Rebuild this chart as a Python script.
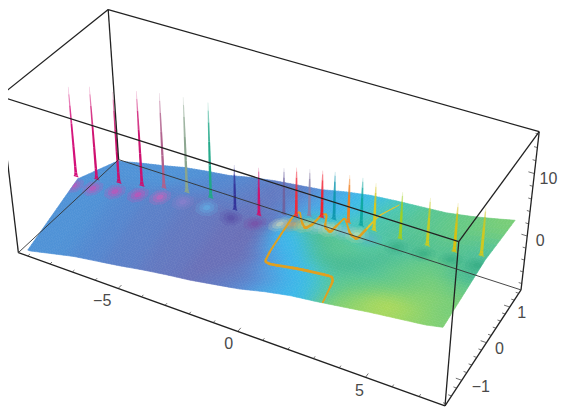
import re
import numpy as np, altair as alt

# ---- data ----
x_nodes = list(range(-9, 9))
z_front = [-8.6,-7.7,-6.8,-6.2,-5.6,-4.9,-4.3,-3.8,-3.1,-2.4,-1.4,-0.6,-0.1,0.5,1.1,1.6,2.1,3.0]
z_crest = [-4.6,-3.9,-3.2,-2.4,-1.5,-1.1,-0.8,-1.4,-0.9,0.5,1.7,2.3,2.7,2.6,2.8,3.1,3.7,4.0]
z_back  = [-7.8,-6.9,-6.1,-5.2,-4.6,-4.1,-3.2,-2.5,-2.0,-1.5,-0.6,0.1,0.5,0.8,1.1,1.8,2.7,3.7]
spike_x = [-9.16,-8.20,-7.18,-6.14,-5.16,-4.16,-3.14,-2.12,-1.12,-0.10,0.40,0.92,1.42,1.90,2.46,2.96,3.46,4.46,5.48,6.48,7.46]
spike_base = [-4.3,-3.6,-2.9,-2.1,-1.2,-0.7,-0.3,-1.0,-0.6,0.9,1.2,2.0,2.4,2.7,2.9,3.1,3.0,3.0,3.3,3.7,4.4]
spike_top = [10.7,11.8,12.1,13.4,14.2,14.7,15.0,6.4,7.2,8.4,9.1,9.5,9.9,10.3,10.5,10.7,10.5,10.4,10.8,11.3,11.9]
spike_color = ["#d4107a","#cf0f70","#cc0f6c","#cc1070","#b0608c","#8aa58e","#20a888","#34349a","#d0106c","#6e63a0",
               "#f02c3c","#8a80a8","#f02030","#1098b0","#f08020","#10a8a0","#d8c820","#a0d020","#c8cc20","#d8c010","#d0c820"]
halo_color = ["#f838ac","#f838ac","#f838ac","#f838ac","#f858b8","#a080d0","#60c4f4","#5040a0","#8040a0","#f8f0b0",
              "#f09040","#f8d878","#b8d0e8","#f0e0b0","#a0c0e0","#e8e8b0","#60b0d0","#30a880","#30a880","#30a880","#30a880"]
curve_x = [3.24,3.14,3.00,1.76,0.56,0.30,0.24,0.24,0.22,0.24,0.74,1.02,1.20,1.20,1.36,1.70,2.00,2.10,2.08,2.72,3.06,3.14,3.06,3.30]
curve_y = [-1.58,-1.15,-1.06,-1.05,-1.03,-0.98,-0.76,-0.32,0.04,0.27,-0.10,-0.23,-0.12,0.21,0.24,-0.14,-0.22,-0.03,0.24,-0.17,-0.24,0.09,0.55,1.13]
curve_w = [1.6,2.4,2.6,3.0,2.6,2.2,1.9,1.9,1.7,1.5,2.1,2.6,2.3,1.8,1.8,2.3,2.6,1.8,1.6,2.5,2.8,1.8,1.2,0.9]
x_labels = [("\u22125",-5,-16,13),("0",0,-9,13),("5",5,-6,14)]
y_labels = [("\u22121",-1,19,7),("0",0,13,6),("1",1,12,6)]
z_labels = [("10",10,14,5),("0",0,13,5)]
palette = dict(A="#4f92d6",B="#5488d0",C="#5c80c8",D="#6478c0",E="#6a70b8",F="#6868b4",G="#5890d8",H="#48a8e4",
               I="#3cb8ec",J="#40c0dc",K="#44c4c0",L="#50c2a2",M="#48ba92",N="#5ac692",O="#68ca84",P="#78ce78",
               Q="#88d270",R="#98d666",S="#a6d860",T="#b2da56",U="#4cc8b0")
cells_back = [
 "A14 B5 C3 D2 C2 G2 H3 I2 J3 U3 N4 O4 P3",
 "A13 B5 C3 D3 C2 G2 H3 I2 J3 U3 N4 O4 P3",
 "A12 B5 C4 D3 C2 G2 H3 I2 J2 U2 L3 N4 O3 M1 N2",
 "A11 B5 C4 D4 C2 G2 H2 I2 J2 K2 U1 L3 N2 M1 N2 M1 N2 L2"]
cells_front = [
 "A6 B4 C5 D5 E5 F2 H1 I1 M2 U2 J1 U2 K1 U2 L2 M2 N2 M1 N2 M2",
 "A6 B4 C5 D5 E5 F1 G1 H1 I1 L1 M2 U3 K2 U2 N1 L2 M1 N3 M4",
 "A6 B4 C5 D5 E5 F1 H1 I2 J1 L1 M2 N3 U2 N2 L2 N3 O2 N1 M2",
 "A6 B4 C5 D5 E5 F1 H1 I3 J1 L1 M1 N4 U1 N1 M2 N2 O4 N1 M2",
 "A6 B4 C5 D5 E6 G1 H1 I3 K1 M2 N4 L2 M1 N2 O4 N1 M2",
 "A6 B4 C5 D5 E6 G1 H1 I3 J1 L2 N2 L1 M3 N2 O3 P2 O2 N1",
 "A6 B4 C5 D5 E6 G2 H1 I3 K1 M6 L1 N2 O3 P3 O2",
 "A6 B4 C5 D5 E6 D1 G1 H2 I2 J1 U1 L1 M3 L2 N2 O2 P4 O2",
 "A6 B4 C5 D5 E6 D1 G2 H1 I3 J1 U1 L2 N3 O3 P3 Q2 P2",
 "A6 B4 C5 D5 E5 D2 G2 H2 I2 J2 U1 N3 O2 P3 Q4 P2",
 "A6 B4 C5 D5 E4 D3 G2 H2 I3 J1 U1 N2 O2 P2 R3 Q3 P2",
 "A6 B4 C5 D5 E4 D3 C1 G2 H2 I2 J2 U1 O1 P2 Q1 S4 R2 Q1 P2",
 "A6 B4 C5 D5 E3 D3 C2 G2 H2 I2 J1 K1 N1 O1 P1 Q2 S2 T2 R2 Q2 P1",
 "A6 B4 C5 D5 E2 D3 C2 G2 H3 I3 J1 N1 P1 Q2 R2 S3 R2 Q2 P1"]

# ---- 3D box and its perspective ----
X0,X1,Y0,Y1,Z0,Z1 = -9.43,7.95,-1.65,1.5,-9.1,16.4
YF,YB,XL,XR = -1.58,1.28,-9.1,7.6
corners = [((0,0,0),(18,252)),((1,0,0),(445,406)),((1,1,0),(521,290)),((0,1,0),(119,160)),
           ((0,0,1),(0,97)),((1,0,1),(459,241.5)),((1,1,1),(539,131.7)),((0,1,1),(108,9))]
M=[]
for (a,b,c),(u,v) in corners:
    M.append([a,b,c,1,0,0,0,0,-u*a,-u*b,-u*c,-u]); M.append([0,0,0,0,a,b,c,1,-v*a,-v*b,-v*c,-v])
P=np.linalg.svd(np.array(M,float))[2][-1].reshape(3,4)
def proj(x,y,z):
    h=P@np.array([(x-X0)/(X1-X0),(y-Y0)/(Y1-Y0),(z-Z0)/(Z1-Z0),1.0])
    return [float(h[0]/h[2]-8), float(h[1]/h[2]-8)]
def height(x,y):
    zf,zc,zb=[float(np.interp(x,x_nodes,s)) for s in (z_front,z_crest,z_back)]
    return zc+(zf-zc)*y/YF if y<0 else zc+(zb-zc)*y/YB
def poly(pts,**p):
    pts=list(pts)+[pts[0]]
    return {"type":"Feature","geometry":{"type":"Polygon","coordinates":[pts]},"properties":p}
def line(pts,**p):
    return {"type":"Feature","geometry":{"type":"LineString","coordinates":list(pts)},"properties":p}
def expand(row): return "".join(ch*int(n) for ch,n in re.findall(r"([A-Z])(\d+)",row))
def rgb(h): return [int(h[i:i+2],16) for i in (1,3,5)]

rows=cells_back+cells_front
ycuts=[YB*(1-i/4) for i in range(5)]+[YF*(i+1)/14 for i in range(14)]
ncol=50; dx=(XR-XL)/ncol; nrow=len(rows)
tab=np.array([[rgb(palette[ch]) for ch in expand(r)[:ncol]] for r in rows],float)
# soften the painted table so that neighbouring cells blend as the smooth shading does
def tap(a,axis):
    lo=np.concatenate([np.take(a,[0],axis),np.take(a,range(a.shape[axis]-1),axis)],axis)
    hi=np.concatenate([np.take(a,range(1,a.shape[axis]),axis),np.take(a,[-1],axis)],axis)
    return (lo+2*a+hi)/4
tab=tap(tap(tap(tab,1),1),0)
SC,SR=3,2
surface=[]
for r in range(nrow):
    for sr in range(SR):
        fr=(sr+.5)/SR
        y0=ycuts[r]+(ycuts[r+1]-ycuts[r])*sr/SR; y1=ycuts[r]+(ycuts[r+1]-ycuts[r])*(sr+1)/SR
        rf=r+fr-.5; r0=int(np.clip(np.floor(rf),0,nrow-1)); r1=min(r0+1,nrow-1); tr=float(np.clip(rf-r0,0,1))
        for c in range(ncol):
            for sc in range(SC):
                cf=c+(sc+.5)/SC-.5; c0=int(np.clip(np.floor(cf),0,ncol-1)); c1=min(c0+1,ncol-1); tc=float(np.clip(cf-c0,0,1))
                col=(tab[r0,c0]*(1-tc)+tab[r0,c1]*tc)*(1-tr)+(tab[r1,c0]*(1-tc)+tab[r1,c1]*tc)*tr
                x0=XL+(c+sc/SC)*dx; x1=XL+(c+(sc+1)/SC)*dx
                surface.append(poly([proj(x,y,height(x,y)) for x,y in ((x0,y0),(x1,y0),(x1,y1),(x0,y1))],
                                    c="#%02x%02x%02x"%tuple(int(v) for v in col)))
halos=[]
for sx,col in zip(spike_x,halo_color):
    sx2=max(sx,XL)
    for k,o in ((1.0,.16),(.65,.22),(.32,.32)):
        pts=[]
        for dxx,dyy in ((1,0),(.7,.7),(0,1),(-.7,.7),(-1,0),(-.7,-.7),(0,-1),(.7,-.7)):
            x=min(max(sx2+.46*k*dxx,XL),XR); y=-.14+.18*k*dyy
            pts.append(proj(x,y,height(x,y)))
        halos.append(poly(pts,c=col,o=o))
profile=[(0,.12,1),(.015,.085,1),(.05,.065,1),(.12,.055,1),(.35,.05,1),(.6,.04,.95),(.8,.03,.7),(.92,.022,.4),(1,.012,.1)]
spikes=[]
for sx,b,t,col in zip(spike_x,spike_base,spike_top,spike_color):
    for (f0,h0,o0),(f1,h1,o1) in zip(profile,profile[1:]):
        z0,z1=b+(t-b)*f0,b+(t-b)*f1
        spikes.append(poly([proj(sx-h0,0,z0),proj(sx+h0,0,z0),proj(sx+h1,0,z1),proj(sx-h1,0,z1)],c=col,o=(o0+o1)/2))
# the thread on the surface, its corners rounded by two passes of corner cutting
pts=[(*proj(x,y,height(x,y)+.1),w) for x,y,w in zip(curve_x,curve_y,curve_w)]
for _ in range(2):
    new=[pts[0]]
    for a,b in zip(pts,pts[1:]):
        new.append(tuple(.86*p+.14*q for p,q in zip(a,b)))
        new.append(tuple(.14*p+.86*q for p,q in zip(a,b)))
    new.append(pts[-1]); pts=new
curve=[line([list(a[:2]),list(b[:2])],c="#e0a020" if i<len(pts)*.88 else "#e8c428",w=a[2]) for i,(a,b) in enumerate(zip(pts,pts[1:]))]
thick=[((X0,Y0,Z0),(X1,Y0,Z0)),((X1,Y0,Z0),(X1,Y1,Z0)),((X1,Y1,Z0),(X1,Y1,Z1)),((X0,Y0,Z1),(X1,Y0,Z1)),
       ((X1,Y0,Z1),(X1,Y1,Z1)),((X0,Y0,Z1),(X0,Y1,Z1)),((X0,Y1,Z1),(X1,Y1,Z1)),((X1,Y0,Z0),(X1,Y0,Z1)),
       ((X0,Y0,Z0),(X0,Y0,Z1)),((X0,Y1,Z0),(X0,Y1,Z1))]
thin=[((X0,Y0,Z0),(X0,Y1,Z0)),((X0,Y1,Z0),(X1,Y1,Z0))]
box=[line([proj(*a),proj(*b)],c="#222222",w=1.3) for a,b in thick]+[line([proj(*a),proj(*b)],c="#333333",w=.9) for a,b in thin]
ticks=[]
for v in range(-9,8):
    l=.1 if v%5==0 else .06
    ticks.append(line([proj(v,Y0,Z0),proj(v,Y0+l,Z0)],c="#333333",w=.7))
for i in range(-8,8):
    v=i*.2; l=.22 if i%5==0 else .12
    ticks.append(line([proj(X1,v,Z0),proj(X1-l,v,Z0)],c="#333333",w=.7))
for v in range(-8,17,2):
    l=.22 if v%10==0 else .12
    ticks.append(line([proj(X1,Y1,v),proj(X1-l,Y1,v)],c="#333333",w=.7))
labels=[]
for t,v,ox,oy in x_labels:
    p=proj(v,Y0,Z0); labels.append(dict(t=t,lon=p[0]+ox,lat=p[1]+oy))
for t,v,ox,oy in y_labels:
    p=proj(X1,v,Z0); labels.append(dict(t=t,lon=p[0]+ox,lat=p[1]+oy))
for t,v,ox,oy in z_labels:
    p=proj(X1,Y1,v); labels.append(dict(t=t,lon=p[0]+ox,lat=p[1]+oy))

def fc(features):
    return alt.Data(values={"type":"FeatureCollection","features":features},format=alt.DataFormat(property="features",type="json"))
pj=dict(type="identity",scale=1,translate=[0,0])
fill=alt.Color("properties.c:N",scale=None,legend=None)
strk=alt.Stroke("properties.c:N",scale=None,legend=None)
wid=alt.StrokeWidth("properties.w:Q",scale=None,legend=None)
fop=alt.FillOpacity("properties.o:Q",scale=None,legend=None)
s_layer=alt.Chart(fc(surface)).mark_geoshape(strokeWidth=.6).encode(fill=fill,stroke=strk).project(**pj)
h_layer=alt.Chart(fc(halos)).mark_geoshape(stroke=None).encode(fill=fill,fillOpacity=fop).project(**pj)
c_layer=alt.Chart(fc(curve)).mark_geoshape(filled=False,strokeCap="round").encode(stroke=strk,strokeWidth=wid).project(**pj)
k_layer=alt.Chart(fc(spikes)).mark_geoshape(stroke=None).encode(fill=fill,fillOpacity=fop).project(**pj)
b_layer=alt.Chart(fc(box)).mark_geoshape(filled=False).encode(stroke=strk,strokeWidth=wid).project(**pj)
t_layer=alt.Chart(fc(ticks)).mark_geoshape(filled=False).encode(stroke=strk,strokeWidth=wid).project(**pj)
l_layer=alt.Chart(alt.Data(values=labels)).mark_text(font="Liberation Sans",fontSize=16,color="#4a4a4a",baseline="middle",align="center").encode(
    longitude="lon:Q",latitude="lat:Q",text="t:N").project(**pj)
chart=alt.layer(s_layer,h_layer,c_layer,k_layer,b_layer,t_layer,l_layer).properties(width=551,height=401,padding=0,autosize="none").configure_view(stroke=None)
chart.save("out.html",embed_options={"renderer":"svg","actions":False})
